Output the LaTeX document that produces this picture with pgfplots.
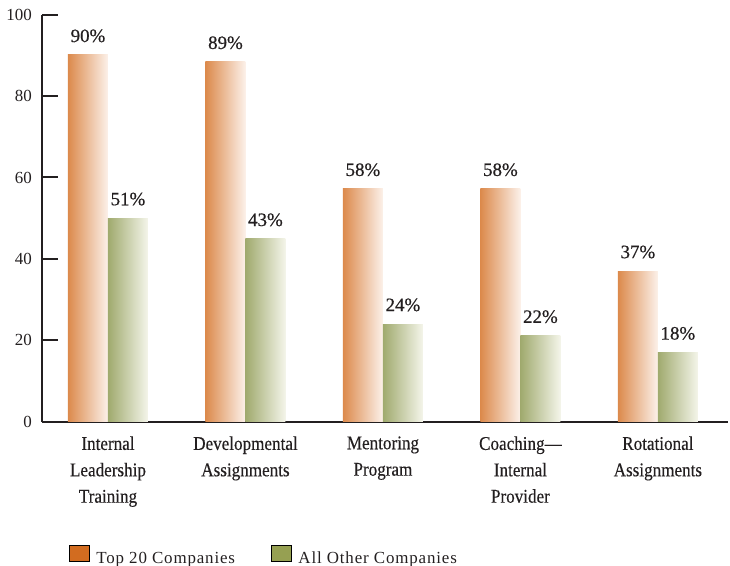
\documentclass[border=0pt]{standalone}
\usepackage{fontspec}
\setmainfont{Liberation Serif}
\newfontfamily\condfont[FakeStretch=0.88, FakeBold=0.3]{Liberation Serif}
\newfontfamily\legfont[LetterSpace=5]{Liberation Serif}
\newfontfamily\labfont[FakeBold=0.6]{Liberation Serif}
\usepackage{pgfplots}
\pgfplotsset{compat=1.18}
\definecolor{txt}{RGB}{35,31,32}
\definecolor{orgL}{RGB}{220,138,76}
\definecolor{orgR}{RGB}{252,241,234}
\definecolor{grnL}{RGB}{160,170,110}
\definecolor{grnR}{RGB}{244,245,234}
\definecolor{orgLeg}{RGB}{210,108,32}
\definecolor{grnLeg}{RGB}{150,160,82}
\pgfplotsset{
  orgbar/.style={ybar, bar width=40bp, bar shift=-20bp, draw=none, left color=orgL, right color=orgR, forget plot},
  grnbar/.style={ybar, bar width=40bp, bar shift=20bp, draw=none, left color=grnL, right color=grnR, forget plot},
  barlab/.style={draw=none, fill=none, forget plot, mark=none,
    point meta=explicit symbolic, nodes near coords,
    nodes near coords style={anchor=south, inner sep=0pt, yshift=12.5bp, xshift=#1,
      font=\labfont\fontsize{19}{22}\selectfont, text=txt}},
}
\begin{document}
\begin{tikzpicture}
\useasboundingbox (-42bp,-144.3bp) rectangle (688bp,421.7bp);
\begin{axis}[
  scale only axis, width=686bp, height=407bp,
  xmin=-0.48, xmax=4.51, ymin=0, ymax=100,
  clip=false,
  axis x line*=bottom, axis y line*=left,
  axis line style={line width=2bp, color=txt},
  ytick={0,20,40,60,80,100},
  xtick={0,1,2,3,4},
  xticklabels={{Internal\\Leadership\\Training},{Developmental\\Assignments},{Mentoring\\Program},{Coaching—\\Internal\\Provider},{Rotational\\Assignments}},
  tick align=inside, major tick length=16bp,
  ytick style={line width=2bp, color=txt},
  xtick style={draw=none},
  /pgf/number format/assume math mode=true,
  yticklabel style={font=\fontsize{17}{20}\selectfont, text=txt, inner sep=0pt, xshift=-10bp},
  xticklabel style={font=\condfont\fontsize{19.5}{26.5}\selectfont, text=txt, align=center, anchor=north, inner sep=0pt, yshift=-14.5bp},
  legend style={at={(0.039,-0.33)}, anchor=west, draw=none, fill=none, inner sep=0pt,
    legend columns=2, font=\legfont\fontsize{17}{20}\selectfont, text=txt,
    /tikz/every even column/.append style={column sep=34bp}},
  legend cell align=left,
  legend image code/.code={\fill[#1] (0bp,-2.7bp) rectangle (20bp,13.3bp); \path (25bp,0bp);},
]
\addlegendimage{fill=orgLeg}
\addlegendentry{Top 20 Companies}
\addlegendimage{fill=grnLeg}
\addlegendentry{All Other Companies}

% Top 20 Companies (bar heights as drawn)
\addplot[orgbar] coordinates {(0,90.1)};
\addplot[orgbar] coordinates {(1,88.4)};
\addplot[orgbar] coordinates {(2,57.2)};
\addplot[orgbar] coordinates {(3,57.2)};
\addplot[orgbar] coordinates {(4,37)};
% All Other Companies
\addplot[grnbar] coordinates {(0,50)};
\addplot[grnbar] coordinates {(1,44.9)};
\addplot[grnbar] coordinates {(2,24)};
\addplot[grnbar] coordinates {(3,21.1)};
\addplot[grnbar] coordinates {(4,17)};

\addplot[barlab=-20bp]
  coordinates {(0,90.1) [90\%] (1,88.4) [89\%] (2,57.2) [58\%] (3,57.2) [58\%] (4,37) [37\%]};
\addplot[barlab=20bp]
  coordinates {(0,50) [51\%] (1,44.9) [43\%] (2,24) [24\%] (3,21.1) [22\%] (4,17) [18\%]};
\end{axis}
\end{tikzpicture}
\end{document}
